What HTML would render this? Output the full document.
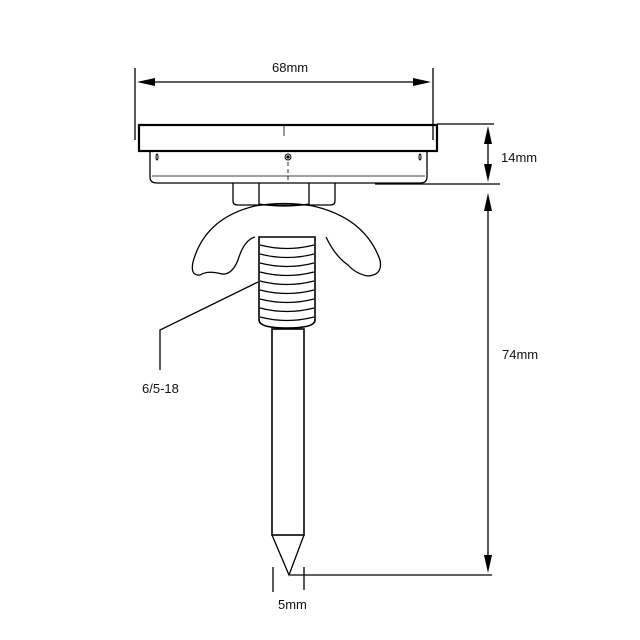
<!DOCTYPE html>
<html><head><style>body{margin:0;background:#fff}svg{display:block}text{font-family:"Liberation Sans",sans-serif;font-size:13px;fill:#111}</style></head><body>
<svg width="640" height="640" viewBox="0 0 640 640" xmlns="http://www.w3.org/2000/svg">
<g stroke="#000" fill="none" stroke-width="1.3">
<!-- 68mm -->
<line x1="135" y1="68" x2="135" y2="140"/><line x1="433" y1="68" x2="433" y2="140"/>
<line x1="140" y1="82" x2="428" y2="82"/>
<!-- plate -->
<rect x="139" y="125" width="298" height="26" stroke-width="2.2"/>
<line x1="284" y1="126" x2="284" y2="136" stroke-width="0.8"/>
<path d="M150 151 V177 Q150 183 157 183 H420 Q427 183 427 177 V151"/>
<line x1="152" y1="176" x2="425" y2="176" stroke-width="0.8"/>
<circle cx="288" cy="157" r="3" stroke-width="1"/><circle cx="288" cy="157" r="1" fill="#000"/>
<line x1="288" y1="162" x2="288" y2="180" stroke-width="0.8" stroke-dasharray="4 3"/>
<ellipse cx="157" cy="157" rx="1" ry="3" stroke-width="1"/><ellipse cx="420" cy="157" rx="1" ry="3" stroke-width="1"/>
<!-- nut -->
<path d="M233 183 V201 Q233 205 238 205 H330 Q335 205 335 201 V183"/>
<line x1="259" y1="183" x2="259" y2="205"/><line x1="309" y1="183" x2="309" y2="205"/>
<path d="M259 204 Q284 208 309 204"/>
<!-- wing nut -->
<path d="M255 237 Q244 240 238 260 Q232 275 222 274 Q208 270 200 275 Q190 276 193 262 Q205 218 255 206 Q284 201 313 206 Q365 218 380 260 Q383 275 368 276 Q356 274 348 265 Q335 256 326 237"/>
<!-- thread -->
<path d="M259 237 H315 V320 Q315 328 287 328 Q259 328 259 320 Z" stroke-width="1.6"/>
<g stroke-width="1.2"><path d="M260 245 Q287 252 314 245"/><path d="M260 254 Q287 261 314 254"/><path d="M260 263 Q287 270 314 263"/><path d="M260 272 Q287 279 314 272"/><path d="M260 281 Q287 288 314 281"/><path d="M260 290 Q287 297 314 290"/><path d="M260 299 Q287 306 314 299"/><path d="M260 308 Q287 315 314 308"/><path d="M260 317 Q287 324 314 317"/></g>
<!-- shaft -->
<rect x="272" y="329" width="32" height="206" stroke-width="1.6"/>
<path d="M272 535 L289 575 L304 535" stroke-width="1.3"/>
<!-- leader -->
<path d="M258 282 L160 330 V370"/>
<!-- 5mm -->
<line x1="273" y1="567" x2="273" y2="592"/><line x1="304" y1="567" x2="304" y2="590"/>
<line x1="290" y1="575" x2="492" y2="575"/>
<!-- right dims -->
<line x1="437" y1="124" x2="494" y2="124"/><line x1="375" y1="184" x2="500" y2="184"/>
<line x1="488" y1="135" x2="488" y2="172"/>
<line x1="488" y1="205" x2="488" y2="562"/>
</g>
<g fill="#000">
<polygon points="137,82 155,78 155,86"/><polygon points="431,82 413,78 413,86"/>
<polygon points="488,126 484,144 492,144"/><polygon points="488,182 484,164 492,164"/>
<polygon points="488,193 484,211 492,211"/><polygon points="488,573 484,555 492,555"/>
</g>
<text x="272" y="72">68mm</text>
<text x="501" y="162">14mm</text>
<text x="502" y="359">74mm</text>
<text x="142" y="393">6/5-18</text>
<text x="278" y="609">5mm</text>
</svg>
</body></html>
